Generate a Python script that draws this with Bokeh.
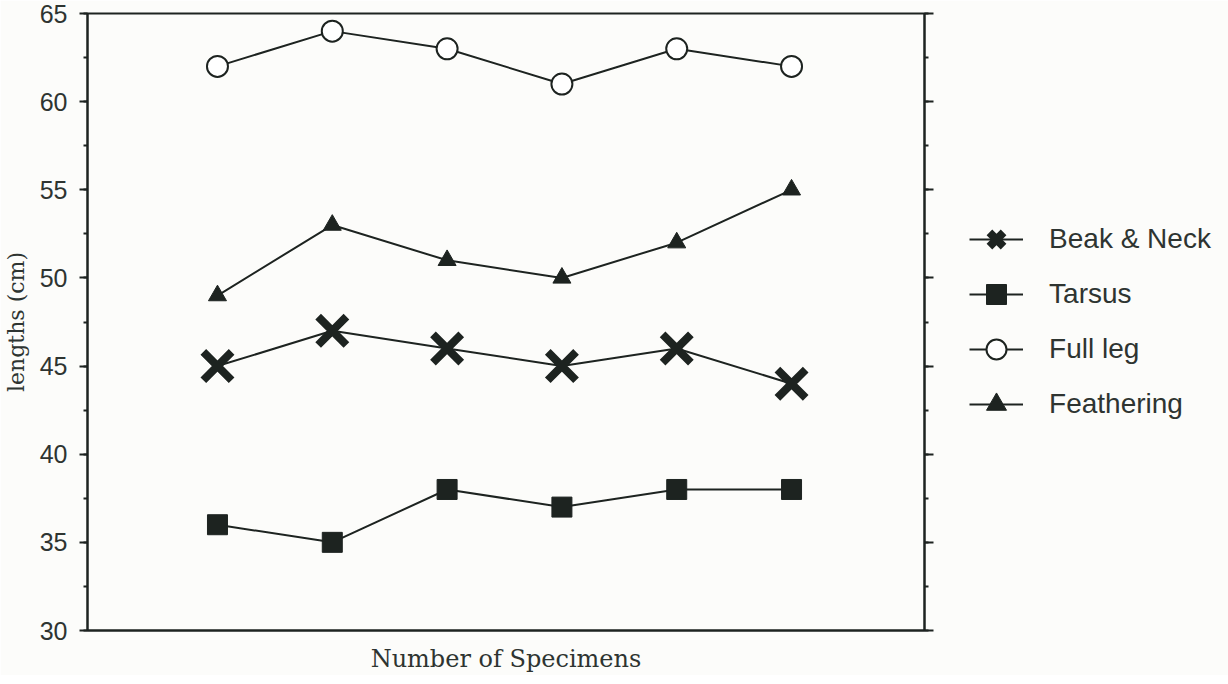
from bokeh.plotting import figure
from bokeh.models import (LinearAxis, SingleIntervalTicker, FixedTicker, Range1d,
                          Legend, LegendItem, CustomLabelingPolicy)
from bokeh.embed import file_html
from bokeh.resources import INLINE

specimens = [1, 2, 3, 4, 5, 6]
beak_neck = [45, 47, 46, 45, 46, 44]
tarsus = [36, 35, 38, 37, 38, 38]
full_leg = [62, 64, 63, 61, 63, 62]
feathering = [49, 53, 51, 50, 52, 55]

INK = "#1d2320"
TXT = "#2e3431"
BG = "#fcfcfa"

p = figure(frame_width=837, frame_height=617, output_backend="svg", toolbar_location=None,
           x_range=Range1d(-0.132, 7.158), y_range=Range1d(30, 65),
           min_border_left=84, min_border_right=291, min_border_top=13, min_border_bottom=38,
           background_fill_color=BG, border_fill_color=BG)
p.grid.visible = False
p.outline_line_color = INK
p.outline_line_width = 2

# y axis, left
p.yaxis.ticker = SingleIntervalTicker(interval=5, num_minor_ticks=2)
p.yaxis.axis_label = "lengths (cm)"
p.yaxis.axis_label_text_font = "DejaVu Serif"
p.yaxis.axis_label_text_font_style = "normal"
p.yaxis.axis_label_text_font_size = "22px"
p.yaxis.axis_label_text_color = TXT
p.yaxis.axis_label_standoff = 8
p.yaxis.major_label_text_font = "Liberation Sans"
p.yaxis.major_label_text_font_size = "25px"
p.yaxis.major_label_text_color = TXT
p.yaxis.major_label_standoff = 12
p.yaxis.axis_line_color = INK
p.yaxis.axis_line_width = 2
p.yaxis.major_tick_line_color = INK
p.yaxis.major_tick_line_width = 2
p.yaxis.major_tick_out = 8
p.yaxis.major_tick_in = 0
p.yaxis.minor_tick_line_color = INK
p.yaxis.minor_tick_line_width = 2
p.yaxis.minor_tick_out = 4
p.yaxis.minor_tick_in = 0

# y axis, right (ticks only, no labels)
right = LinearAxis(ticker=SingleIntervalTicker(interval=5, num_minor_ticks=2),
                   major_label_policy=CustomLabelingPolicy(code="return []"),
                   axis_line_color=INK, axis_line_width=2,
                   major_tick_line_color=INK, major_tick_line_width=2,
                   major_tick_out=9, major_tick_in=0,
                   minor_tick_line_color=INK, minor_tick_line_width=2,
                   minor_tick_out=4, minor_tick_in=0)
p.add_layout(right, "right")

# x axis
p.xaxis.ticker = FixedTicker(ticks=[])
p.xaxis.axis_label = "Number of Specimens"
p.xaxis.axis_label_text_font = "DejaVu Serif"
p.xaxis.axis_label_text_font_style = "normal"
p.xaxis.axis_label_text_font_size = "24px"
p.xaxis.axis_label_text_color = TXT
p.xaxis.axis_label_standoff = 14
p.xaxis.axis_line_color = INK
p.xaxis.axis_line_width = 2
p.xaxis.major_tick_out = 0
p.xaxis.major_tick_in = 0
p.xaxis.minor_tick_out = 0

items = []

l1 = p.line(specimens, beak_neck, line_color=INK, line_width=2)
m1 = p.scatter(specimens, beak_neck, marker="x", size=40, line_color=INK, line_width=8)
items.append(LegendItem(label="Beak & Neck", renderers=[l1, m1]))

l2 = p.line(specimens, tarsus, line_color=INK, line_width=2)
m2 = p.scatter(specimens, tarsus, marker="square", size=20, fill_color=INK, line_color=INK)
items.append(LegendItem(label="Tarsus", renderers=[l2, m2]))

l3 = p.line(specimens, full_leg, line_color=INK, line_width=2)
m3 = p.scatter(specimens, full_leg, marker="circle", size=21, fill_color="white",
               line_color=INK, line_width=2)
items.append(LegendItem(label="Full leg", renderers=[l3, m3]))

l4 = p.line(specimens, feathering, line_color=INK, line_width=2)
m4 = p.scatter(specimens, feathering, marker="triangle", size=18, fill_color=INK, line_color=INK)
items.append(LegendItem(label="Feathering", renderers=[l4, m4]))

legend = Legend(items=items, location=(-207, 201), orientation="vertical",
                glyph_width=54, glyph_height=50, label_height=50, spacing=5,
                label_standoff=26, padding=0, margin=0,
                border_line_color=None, background_fill_alpha=0,
                label_text_font="Liberation Sans", label_text_font_size="28px",
                label_text_color=TXT)
p.add_layout(legend, "right")

open("out.html", "w").write(file_html(p, INLINE))
